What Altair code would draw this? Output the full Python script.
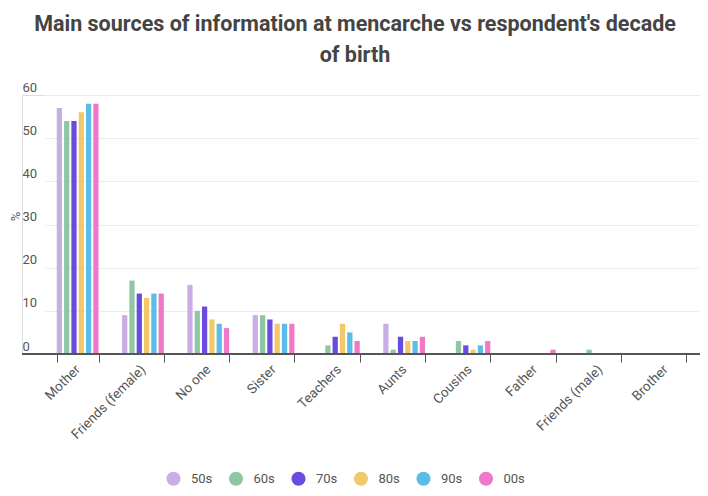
import altair as alt
import pandas as pd

categories = ["Mother", "Friends (female)", "No one", "Sister", "Teachers",
              "Aunts", "Cousins", "Father", "Friends (male)", "Brother"]
decades = ["50s", "60s", "70s", "80s", "90s", "00s"]
v50 = [57, 9, 16, 9, 0, 7, 0, 0, 0, 0]
v60 = [54, 17, 10, 9, 2, 1, 3, 0, 1, 0]
v70 = [54, 14, 11, 8, 4, 4, 2, 0, 0, 0]
v80 = [56, 13, 8, 7, 7, 3, 1, 0, 0, 0]
v90 = [58, 14, 7, 7, 5, 3, 2, 0, 0, 0]
v00 = [58, 14, 6, 7, 3, 4, 3, 1, 0, 0]
colors = ["#c9aee6", "#8fc6a4", "#6a4be0", "#f2c96a", "#5bbce8", "#ef78c9"]
y_ticks = [0, 10, 20, 30, 40, 50, 60]

rows = []
for d, vals in zip(decades, [v50, v60, v70, v80, v90, v00]):
    for c, v in zip(categories, vals):
        rows.append({"source": c, "decade": d, "pct": v})
df = pd.DataFrame(rows)
base_df = pd.DataFrame({"pct": [0]})

W, H = 678, 259
FONT = "Roboto"
TXT = "#555555"

y_axis = alt.Axis(title="%", values=y_ticks, grid=True, gridColor="#ececec",
                  gridWidth=1, domain=False,
                  ticks=False, tickSize=0, labelAlign="left",
                  labelBaseline="alphabetic", labelPadding=0, labelOffset=-4,
                  labelFont=FONT, labelFontSize=13, labelColor=TXT,
                  titleFont=FONT, titleFontSize=13, titleColor=TXT,
                  titleFontWeight="normal", titleX=-7, titleY=121,
                  titleAngle=-90, titleAlign="center", titleBaseline="middle")
y_scale = alt.Scale(domain=[0, 60])

bars = alt.Chart(df).transform_filter("datum.pct > 0").mark_bar().encode(
    x=alt.X("source:N", sort=categories,
            scale=alt.Scale(domain=categories, range=[23, 676],
                            paddingInner=0.36, paddingOuter=0.18),
            axis=alt.Axis(title=None, labelAngle=-45, labelAlign="right",
                          labelBaseline="middle", tickBand="extent", tickSize=8,
                          tickColor=TXT, tickWidth=1, domain=False, grid=False,
                          labelFont=FONT, labelFontSize=13.5, labelColor=TXT,
                          labelPadding=5)),
    xOffset=alt.XOffset("decade:N", sort=decades,
                        scale=alt.Scale(domain=decades, paddingInner=0.28, paddingOuter=0)),
    y=alt.Y("pct:Q", scale=y_scale, axis=y_axis),
    color=alt.Color("decade:N", sort=decades,
                    scale=alt.Scale(domain=decades, range=colors),
                    legend=alt.Legend(title=None, orient="none", legendX=144, legendY=376,
                                      direction="horizontal", symbolType="circle",
                                      symbolSize=200, symbolStrokeWidth=0,
                                      symbolOpacity=1, labelFont=FONT,
                                      labelFontSize=13, labelColor=TXT,
                                      labelOffset=10, columnPadding=15.5)),
)

baseline = alt.Chart(base_df).mark_rule(color=TXT, strokeWidth=2).encode(
    y=alt.Y("pct:Q", scale=y_scale, axis=y_axis),
)

chart = alt.layer(bars, baseline).properties(
    width=W, height=H,
    title=alt.TitleParams(
        ["Main sources of information at mencarche vs respondent's decade", "of birth"],
        font=FONT, fontSize=21.5, fontWeight="bold", color="#444444",
        lineHeight=31, anchor="middle", frame="bounds", offset=15, dx=0),
    autosize=alt.AutoSizeParams(type="none"),
    padding={"left": 14, "top": 87, "right": 0, "bottom": 134},
).configure_view(strokeWidth=0, stroke="transparent").configure(background="white")

chart.save("out.html", embed_options={"renderer": "svg", "actions": False})
